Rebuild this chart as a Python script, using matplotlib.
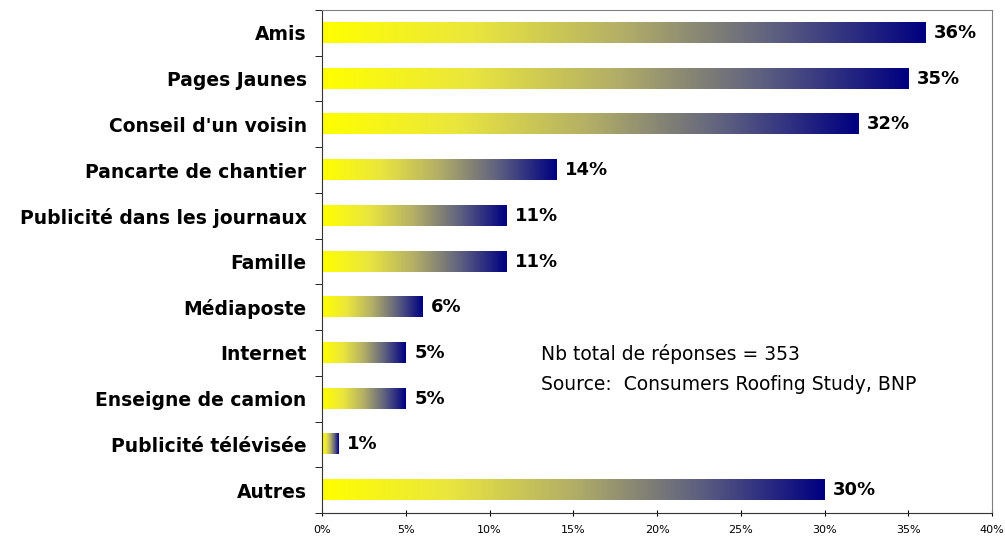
import matplotlib.pyplot as plt
import numpy as np
from matplotlib.colors import LinearSegmentedColormap

categories = ['Amis', 'Pages Jaunes', "Conseil d'un voisin", 'Pancarte de chantier',
              'Publicité dans les journaux', 'Famille', 'Médiaposte', 'Internet',
              'Enseigne de camion', 'Publicité télévisée', 'Autres']
values = [36, 35, 32, 14, 11, 11, 6, 5, 5, 1, 30]
xticks = [0, 5, 10, 15, 20, 25, 30, 35, 40]
note = 'Nb total de réponses = 353\nSource:  Consumers Roofing Study, BNP'

plt.rcParams['font.family'] = ['DejaVu Sans']

cmap = LinearSegmentedColormap.from_list(
    'yn', [(0, '#FFFF00'), (0.25, '#EAE63E'), (0.5, '#B2AE68'),
           (0.75, '#5E6080'), (1, '#000080')])

fig = plt.figure(figsize=(10.05, 5.39), dpi=100)
ax = fig.add_axes([0.3204, 0.0482, 0.6667, 0.9332])

pos = np.arange(len(categories))
bars = ax.barh(pos, values, height=0.44, color='none')
grad = np.linspace(0, 1, 256).reshape(1, -1)
for b, v in zip(bars, values):
    x0, y0 = b.get_x(), b.get_y()
    ax.imshow(grad, cmap=cmap, aspect='auto', interpolation='bilinear',
              extent=(x0, x0 + b.get_width(), y0 + b.get_height(), y0), zorder=2)
    ax.text(v + 0.5, b.get_y() + b.get_height() / 2, f'{v}%', va='center',
            ha='left', fontsize=13, fontweight='bold')

ax.set_xlim(0, 40)
ax.set_ylim(len(categories) - 0.5, -0.5)
ax.set_xticks(xticks)
ax.set_xticklabels([f'{t}%' for t in xticks], fontsize=8)
ax.set_yticks(pos)
ax.set_yticklabels(categories, fontsize=13.5, fontweight='bold')
ax.set_yticks(np.arange(len(categories) + 1) - 0.5, minor=True)
ax.tick_params(axis='y', which='major', length=0, pad=11)
ax.tick_params(axis='y', which='minor', length=5, direction='out')
ax.tick_params(axis='x', length=5, direction='inout', pad=6)

for s in ['top', 'right']:
    ax.spines[s].set_color('#808080')
for s in ['left', 'bottom']:
    ax.spines[s].set_color('#333333')

ax.text(13.1, 7.35, note, fontsize=13.5, va='center', ha='left', linespacing=1.75)

fig.savefig('out.png', dpi=100)
